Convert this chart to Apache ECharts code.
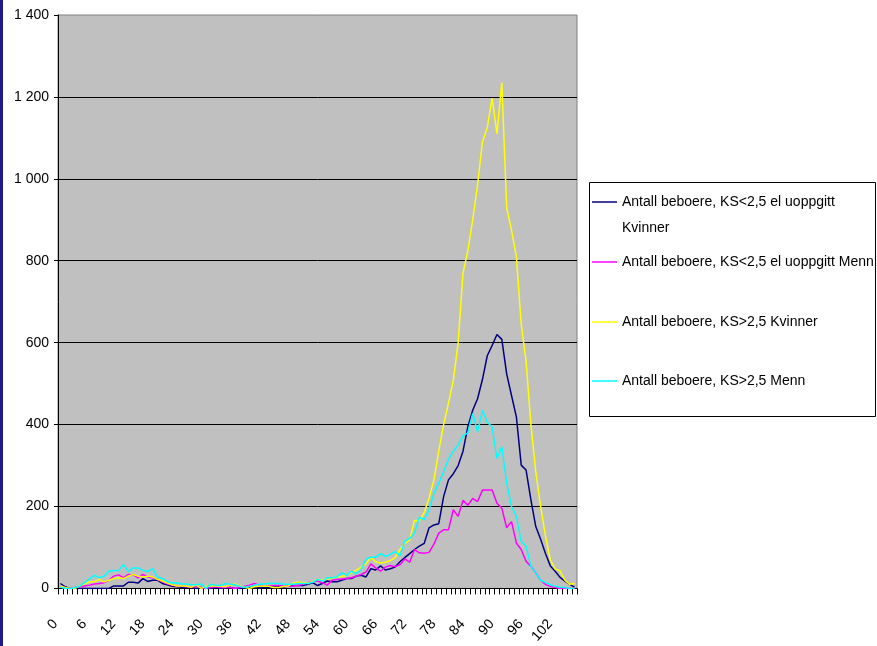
<!DOCTYPE html>
<html><head><meta charset="utf-8">
<script src="https://cdn.jsdelivr.net/npm/echarts@6/dist/echarts.min.js"></script>
<style>html,body{margin:0;padding:0;background:#fff}#c{width:877px;height:646px}</style>
</head><body><div id="c"></div>
<script>
const ages = ['0','1','2','3','4','5','6','7','8','9','10','11','12','13','14','15','16','17','18','19','20','21','22','23','24','25','26','27','28','29','30','31','32','33','34','35','36','37','38','39','40','41','42','43','44','45','46','47','48','49','50','51','52','53','54','55','56','57','58','59','60','61','62','63','64','65','66','67','68','69','70','71','72','73','74','75','76','77','78','79','80','81','82','83','84','85','86','87','88','89','90','91','92','93','94','95','96','97','98','99','100','101','102','103','104','105','106'];

const seriesNames = [
  'Antall beboere, KS<2,5 el uoppgitt Kvinner',
  'Antall beboere, KS<2,5 el uoppgitt Menn',
  'Antall beboere, KS>2,5 Kvinner',
  'Antall beboere, KS>2,5 Menn'
];

const ksLowKvinner = [12,4,0,0,0,0,0,0,0,0,0,6,6,6,15,15,13,24,17,20,20,12,9,5,4,3,2,2,0,2,0,0,2,0,2,2,0,0,2,2,2,2,3,3,4,4,4,5,7,7,7,10,14,7,12,18,16,16,20,24,24,30,32,28,48,45,55,45,48,52,65,75,85,95,103,110,148,155,158,224,265,280,300,335,395,435,463,510,568,593,620,608,524,471,419,301,289,216,151,120,85,55,42,27,18,10,3];

const ksLowMenn = [6,2,0,2,4,6,8,11,12,14,20,30,33,26,34,33,26,34,28,26,22,16,11,8,6,5,4,3,5,2,0,3,4,2,3,2,0,3,5,8,12,8,6,6,7,7,6,5,6,7,10,14,16,18,14,8,20,22,23,24,26,30,34,40,60,50,42,52,56,53,58,72,64,95,87,86,88,108,135,143,143,192,176,215,203,220,212,240,240,240,208,196,148,163,111,95,66,54,38,20,10,5,2,0,0,0,0];

const ksHighKvinner = [6,2,0,0,6,11,16,16,22,16,20,24,26,24,30,34,30,28,30,28,22,18,13,9,6,6,5,3,8,0,5,6,6,5,4,8,11,6,3,0,4,5,6,5,2,2,5,6,13,15,14,13,17,22,20,23,25,28,29,32,38,44,52,60,75,65,62,64,68,75,95,110,118,166,165,185,220,265,335,400,452,508,600,770,825,900,985,1090,1125,1197,1110,1235,930,875,810,645,555,400,285,200,128,70,47,43,20,10,12];

const ksHighMenn = [3,0,0,2,6,14,24,32,26,30,42,44,44,58,41,50,50,44,41,48,28,24,17,13,14,11,11,9,9,11,0,10,8,7,12,10,9,5,2,5,8,10,11,12,12,12,10,10,10,12,12,12,15,22,18,26,26,28,38,32,42,36,45,72,76,76,85,78,83,90,80,115,122,135,173,168,192,232,257,285,315,335,350,373,380,427,382,435,406,394,317,346,257,200,176,115,103,54,38,20,14,9,5,3,2,0,0];

const yTicks = [0,200,400,600,800,1000,1200,1400];
const legendLines = [
  ['Antall beboere, KS<2,5 el uoppgitt', 'Kvinner'],
  ['Antall beboere, KS<2,5 el uoppgitt Menn'],
  ['Antall beboere, KS>2,5 Kvinner'],
  ['Antall beboere, KS>2,5 Menn']
];
const colors = ['#000080','#FF00FF','#FFFF00','#00FFFF'];
const FONT = "'Liberation Sans',Arial,sans-serif";

const chart = echarts.init(document.getElementById('c'));
const values = [ksLowKvinner, ksLowMenn, ksHighKvinner, ksHighMenn];
const legendTops = [163, 249, 309, 368];

const legends = seriesNames.map((n, i) => ({
  show: true, orient: 'vertical', left: 592, top: legendTops[i], padding: 0,
  itemWidth: 25, itemHeight: 1.5, icon: 'rect', selectedMode: false,
  data: [n],
  formatter: () => legendLines[i].length > 1 ? ' \n' + legendLines[i].join('\n') : legendLines[i][0],
  textStyle: { fontFamily: FONT, fontSize: 14, color: '#000', lineHeight: 26 }
}));

chart.setOption({
  animation: false,
  backgroundColor: '#fff',
  color: colors,
  grid: { left: 58, right: 300, top: 15, bottom: 57, show: true, backgroundColor: '#C0C0C0', borderColor: '#808080', borderWidth: 1 },
  graphic: [
    { type: 'rect', left: 0, top: 0, shape: { width: 3, height: 646 }, style: { fill: '#1C1C84' }, z: 0 },
    { type: 'rect', shape: { x: 589.5, y: 182.5, width: 286, height: 234 }, style: { fill: '#fff', stroke: '#000', lineWidth: 1 }, z: 0 }
  ],
  legend: legends,
  xAxis: {
    type: 'category', data: ages, boundaryGap: true,
    axisLine: { lineStyle: { color: '#000', width: 1 } },
    axisTick: { show: true, interval: 0, length: 6, lineStyle: { color: '#000' } },
    axisLabel: { interval: 5, rotate: 48, margin: 38, verticalAlign: 'bottom', fontFamily: FONT, fontSize: 14, color: '#000' },
    splitLine: { show: false }
  },
  yAxis: {
    type: 'value', min: 0, max: 1400, interval: 200,
    axisLine: { show: true, lineStyle: { color: '#000', width: 1 } },
    axisTick: { show: true, length: 4, lineStyle: { color: '#000' } },
    axisLabel: { margin: 9, fontFamily: FONT, fontSize: 14, color: '#000',
      formatter: v => yTicks.includes(v) ? String(v).replace(/\B(?=(\d{3})+(?!\d))/g, ' ') : '' },
    splitLine: { show: true, showMaxLine: false, lineStyle: { color: '#000', width: 1 } }
  },
  series: seriesNames.map((n, i) => ({
    name: n, type: 'line', data: values[i], symbol: 'none', smooth: false,
    lineStyle: { width: 1.5, color: colors[i] }, itemStyle: { color: colors[i] }
  }))
});
</script></body></html>
